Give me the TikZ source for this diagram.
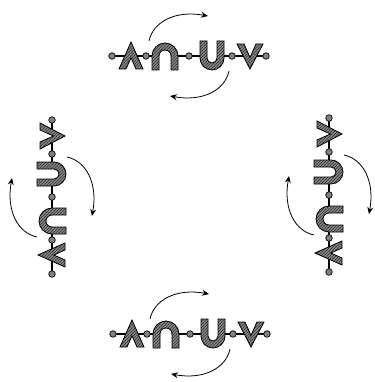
\documentclass[tikz,border=0pt]{standalone}
\usetikzlibrary{arrows.meta,patterns}
\tikzset{
  band/.style={preaction={fill=black!48},preaction={pattern=north east lines,pattern color=black!80},
               draw=black,line width=0.8pt,line join=miter},
  bead/.style={draw=black,line width=0.7pt,fill=black!50},
  link/.style={draw=black,line width=1.1pt},
  turn/.style={draw=black,line width=0.8pt,-{Stealth[length=7pt,width=6pt,inset=2.5pt]}},
  chainunit/.pic={
    % links
    \path[link] (-76,0) -- (-64,0) (-52,0) -- (-37,0) (-11,0) -- (11,0) (35,0) -- (54.5,0) (67.5,0) -- (76,0);
    % Lambda
    \path[band] (-70,13) -- (-58,-14) -- (-46,13) -- (-53,13) -- (-58,1.7) -- (-63,13) -- cycle;
    % cap (n)
    \path[band] (-37,14) -- (-37,0) arc[start angle=180,end angle=360,radius=13] -- (-11,14)
                -- (-18,14) -- (-18,0) arc[start angle=0,end angle=-180,radius=6] -- (-30,14) -- cycle;
    % cup (U)
    \path[band] (11,-15) -- (11,2) arc[start angle=180,end angle=0,radius=12] -- (35,-15)
                -- (28,-15) -- (28,2) arc[start angle=0,end angle=180,radius=5] -- (18,-15) -- cycle;
    % V
    \path[band] (48,-12) -- (61,13) -- (74,-12) -- (67,-12) -- (61,1.5) -- (55,-12) -- cycle;
    % beads
    \foreach \bx in {-77,-43,0,43,77} \path[bead] (\bx,0) circle[radius=3.3];
    % turning arrows
    \coordinate (-a1) at (-40,-15); \coordinate (-b1) at (19,-40);
    \coordinate (-a2) at (40,15);   \coordinate (-b2) at (-19,40);
    \path[turn] (-a1) .. controls (-36,-34) and (-14,-46) .. (-b1);
    \path[turn] (-a2) .. controls (36,34) and (14,46) .. (-b2);
  }
}
\begin{document}
\begin{tikzpicture}[x=1pt,y=-1pt]
  \fill[white] (0,0) rectangle (374,382);
  \useasboundingbox (0,0) rectangle (374,382);
  \pic (top) at (189,56) {chainunit};
  \pic (bottom) at (190,334) {chainunit};
  \pic[rotate=90] (left) at (52,197) {chainunit};
  \pic[rotate=90] (right) at (329,195) {chainunit};
\end{tikzpicture}
\end{document}
